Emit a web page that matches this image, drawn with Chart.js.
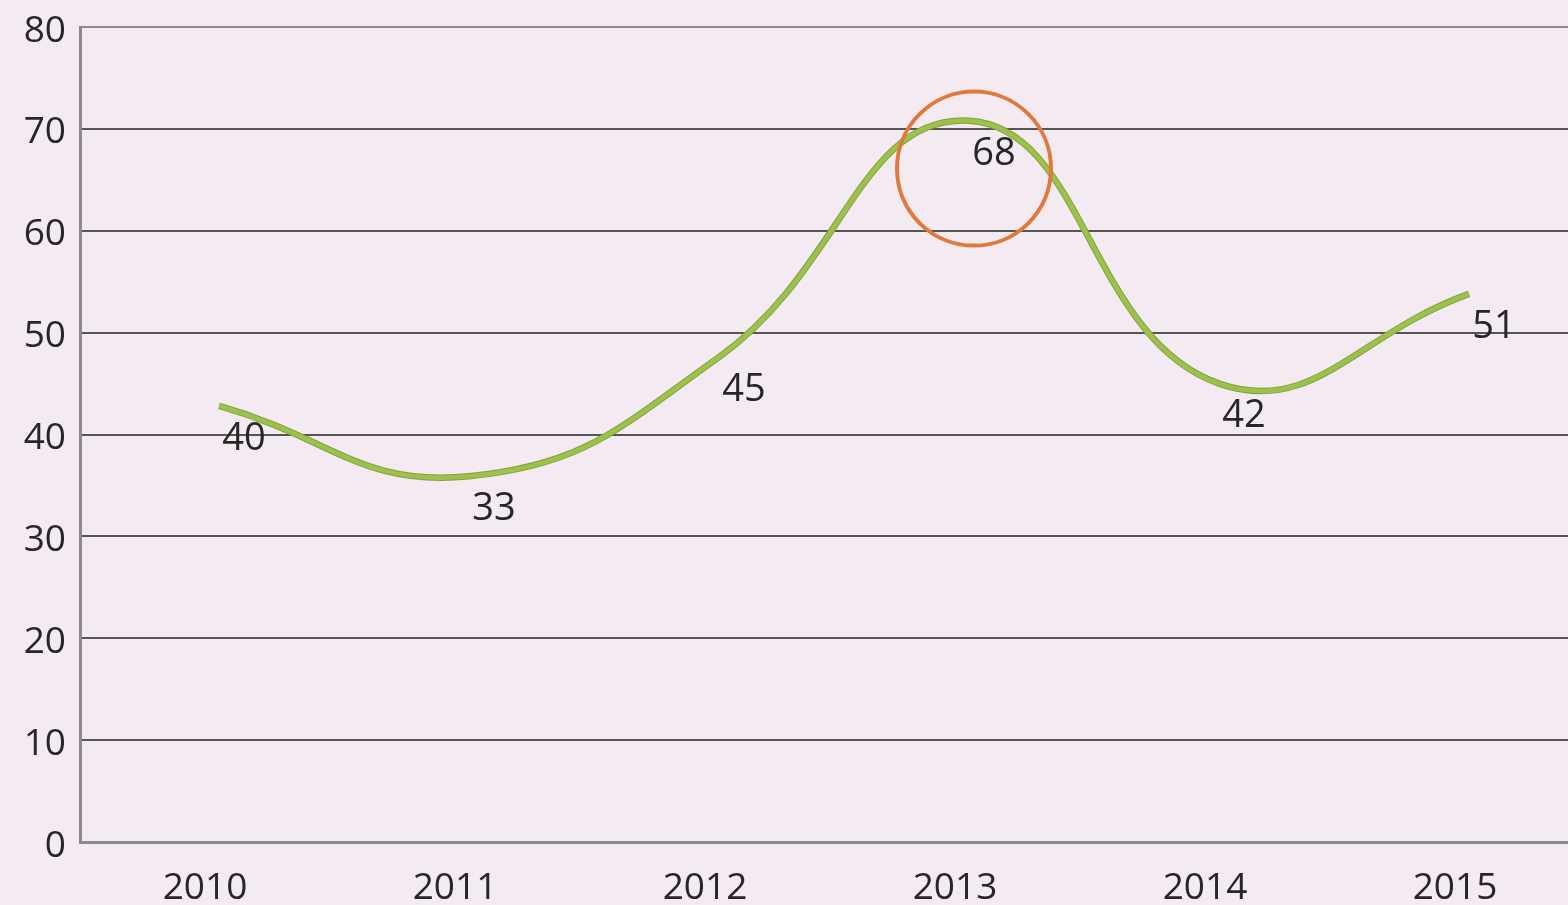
<!DOCTYPE html>
<html>
<head>
<meta charset="utf-8">
<script src="https://cdn.jsdelivr.net/npm/chart.js@4/dist/chart.umd.min.js"></script>
<style>
  html, body { margin: 0; padding: 0; background: #f4eaf2; overflow: hidden; }
  #wrap { width: 1568px; height: 905px; overflow: hidden; position: relative; }
  #wrap canvas { position: absolute; left: 0; top: 0; }
</style>
</head>
<body>
<div id="wrap"><canvas id="chart" width="1600" height="905"></canvas></div>
<script>
const years = ['2010', '2011', '2012', '2013', '2014', '2015'];
// curve height as drawn in the picture
const lineValues = [42.8, 35.9, 47.6, 70.8, 45.0, 53.8];
// numbers printed next to the curve
const labelValues = [40, 33, 45, 68, 42, 51];
const yTicks = [0, 10, 20, 30, 40, 50, 60, 70, 80];

// the curve sits a little to the right of the category centres
const lineShift = 0.056;
// the orange ring around the 2013 peak
const ringIndex = 3;
const ringValue = 66.1;

const textColor = '#262626';
const font = 'Open Sans, DejaVu Sans, sans-serif';

const labelsPlugin = {
  id: 'valueLabels',
  afterDatasetsDraw(chart) {
    const ctx = chart.ctx;
    const pts = chart.getDatasetMeta(0).data;
    ctx.save();
    ctx.fillStyle = textColor;
    ctx.font = '38px ' + font;
    ctx.textAlign = 'center';
    ctx.textBaseline = 'middle';
    pts.forEach((p, i) => {
      ctx.fillText(String(labelValues[i]), p.x + 25, p.y + 33);
    });

    // ring
    const xs = chart.scales.xl;
    const ys = chart.scales.y;
    const cx = xs.getPixelForValue(ringIndex + lineShift + 0.02);
    const cy = ys.getPixelForValue(ringValue);
    ctx.beginPath();
    ctx.arc(cx, cy, 77, 0, Math.PI * 2);
    ctx.strokeStyle = '#e07a3c';
    ctx.lineWidth = 4;
    ctx.stroke();
    ctx.restore();
  }
};

const lineOutline = {
  id: 'lineOutline',
  beforeDatasetsDraw(chart) {
    // darker edge under the green stroke
    const meta = chart.getDatasetMeta(0);
    const ctx = chart.ctx;
    ctx.save();
    const ds = meta.dataset;
    const opts = ds.options;
    const w = opts.borderWidth, c = opts.borderColor;
    opts.borderWidth = w + 2;
    opts.borderColor = '#84a044';
    ds.draw(ctx, chart.chartArea);
    opts.borderWidth = w;
    opts.borderColor = c;
    ctx.restore();
  }
};

new Chart(document.getElementById('chart'), {
  type: 'line',
  data: {
    labels: years,
    datasets: [{
      data: lineValues.map((v, i) => ({ x: i + lineShift, y: v })),
      xAxisID: 'xl',
      borderColor: '#9dc24a',
      borderWidth: 4.5,
      tension: 0.45,
      pointRadius: 0,
      fill: false,
      clip: false
    }]
  },
  options: {
    responsive: false,
    animation: false,
    events: [],
    layout: { padding: { top: 27, right: 20, left: 0, bottom: 0 } },
    plugins: { legend: { display: false }, tooltip: { enabled: false } },
    scales: {
      x: {
        type: 'category',
        offset: true,
        grid: { display: false, drawTicks: false },
        border: { display: true, color: '#8a8a8a', width: 3 },
        ticks: { color: textColor, font: { size: 37, family: font }, padding: 24, maxRotation: 0 },
        afterFit(s) { s.height = 63; s.paddingLeft = 0; s.paddingRight = 0; }
      },
      xl: {
        type: 'linear',
        display: false,
        min: -0.5,
        max: years.length - 0.5
      },
      y: {
        min: 0,
        max: 80,
        afterBuildTicks(s) { s.ticks = yTicks.map(v => ({ value: v })); },
        grid: {
          drawTicks: false,
          color: ctx => (ctx.tick && ctx.tick.value === 80 ? '#8a8a8a' : '#555555'),
          lineWidth: 2
        },
        border: { display: true, color: '#8a8a8a', width: 3 },
        ticks: { color: textColor, font: { size: 37, family: font }, padding: 14, labelOffset: 4 },
        afterFit(s) { s.width = 80; s.paddingTop = 0; s.paddingBottom = 0; }
      }
    }
  },
  plugins: [lineOutline, labelsPlugin]
});
</script>
</body>
</html>
